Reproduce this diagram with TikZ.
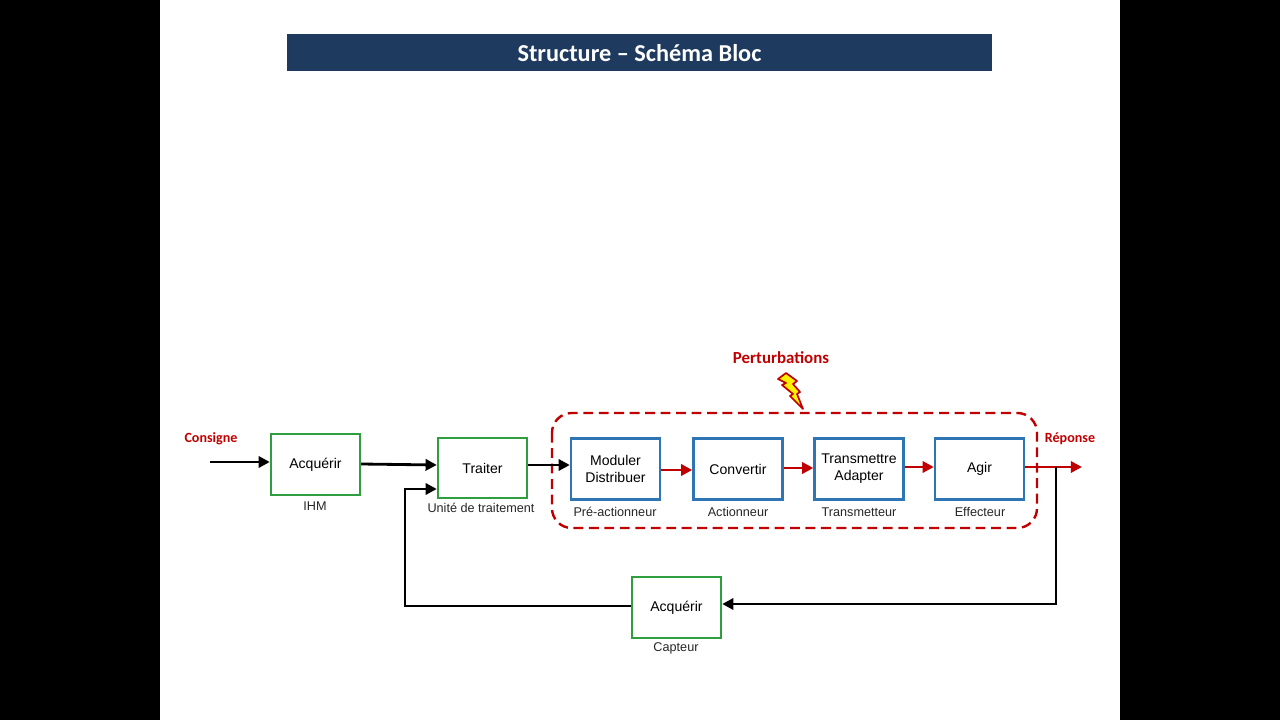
\documentclass[tikz,border=0pt]{standalone}
\usepackage{fontspec}
\setmainfont{Liberation Sans}
\newfontfamily\calib{Carlito}
\usetikzlibrary{arrows.meta}
\definecolor{navy}{HTML}{1F3A5F}
\definecolor{gbox}{HTML}{2E9E3E}
\definecolor{bbox}{HTML}{2E75B6}
\definecolor{rd}{HTML}{C00000}
\begin{document}
\begin{tikzpicture}[x=0.025cm,y=-0.025cm,
 gb/.style={draw=gbox,line width=1.7pt,minimum width=89*0.025cm,minimum height=61*0.025cm,inner sep=0pt,font=\normalsize,align=center},
 bb/.style={gb,draw=bbox},
 lab/.style={font=\small,text=black!85},
 ar/.style={line width=2pt,-{Triangle[length=8pt,width=8pt]}},
 rar/.style={ar,draw=rd},
 rt/.style={font=\calib\bfseries\large,text=rd}]
\useasboundingbox (0,0) rectangle (1280,720);
\fill[black] (0,0) rectangle (160,720);
\fill[black] (1120,0) rectangle (1280,720);
\fill[navy] (287,34) rectangle (992,71);
\node[text=white,font=\calib\bfseries\LARGE] (title) at (639.5,53) {Structure – Schéma Bloc};
\draw[rd,line width=1.7pt,dash pattern=on 7pt off 4pt,rounded corners=14pt] (552,413) rectangle (1037,528);
\node[gb] (acq) at (315.5,464.5) {Acquérir};
\node[gb,minimum height=60*0.025cm] (tr) at (482.5,468) {Traiter};
\node[bb] (mod) at (615.5,469) {Moduler\\Distribuer};
\node[bb] (conv) at (738,469) {Convertir};
\node[bb] (trans) at (859,469) {Transmettre\\Adapter};
\node[bb] (agir) at (979.5,469) {Agir};
\node[gb] (cap) at (676.5,607.5) {Acquérir};
\node[lab] (l1) at (315,506) {IHM};
\node[lab] (l2) at (481,508) {Unité de traitement};
\node[lab] (l3) at (615,512) {Pré-actionneur};
\node[lab] (l4) at (738,512) {Actionneur};
\node[lab] (l5) at (859,512) {Transmetteur};
\node[lab] (l6) at (980,512) {Effecteur};
\node[lab] (l7) at (676,648) {Capteur};
\node[rt,font=\calib\bfseries\normalsize] (cons) at (211,439) {Consigne};
\node[rt,font=\calib\bfseries\normalsize] (rep) at (1070,439) {Réponse};
\node[rt] (pert) at (781,358) {Perturbations};
\coordinate (in) at (210,462);
\coordinate (out) at (1082,467);
\coordinate (tap) at (1056,467);
\coordinate (fb) at (405,489);
\draw[ar] (in) -- (acq.west|-in);
\draw[ar] (acq.east|-0,464) -- (tr.west|-0,465);
\draw[ar] (tr.east|-0,465) -- (mod.west|-0,465);
\draw[rar] (mod.east|-0,470) -- (conv.west|-0,470);
\draw[rar] (conv.east|-0,468) -- (trans.west|-0,468);
\draw[rar] (trans.east|-0,467) -- (agir.west|-0,467);
\draw[rar] (agir.east|-out) -- (out);
\draw[ar] (tap) -- (1056,604) -- (cap.east|-0,604);
\draw[ar] (cap.west|-0,606) -- (405,606) -- (fb) -- (tr.west|-fb);
\fill[yellow,draw=rd,line width=1.2pt,line join=round] (786,373) -- (797,381) -- (793,384) -- (800,392) -- (797,394) -- (803,409) -- (790,396) -- (793,394) -- (782,385) -- (786,383) -- (778,379) -- cycle;
\end{tikzpicture}
\end{document}
